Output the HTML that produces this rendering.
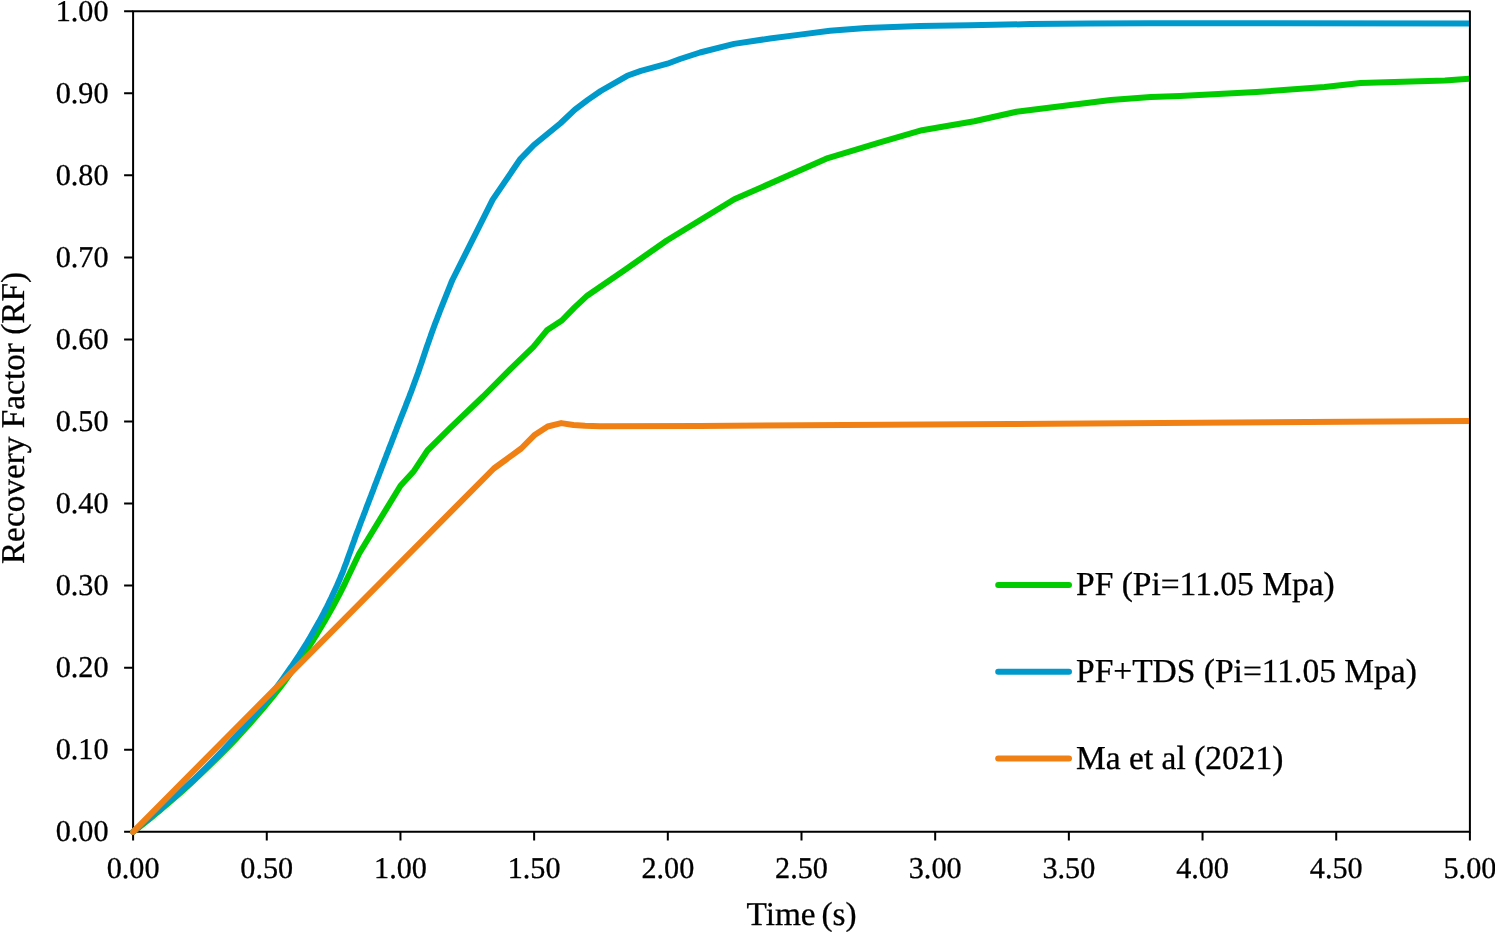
<!DOCTYPE html><html><head><meta charset="utf-8"><style>html,body{margin:0;padding:0;background:#fff;overflow:hidden}svg{display:block}text{font-family:"Liberation Serif",serif;fill:#000;text-rendering:geometricPrecision;stroke:#000;stroke-width:0.3px}</style></head><body>
<svg style="will-change:transform" width="1495" height="932" viewBox="0 0 1495 932">
<rect width="1495" height="932" fill="#fff"/>
<rect x="133.1" y="11.2" width="1336.8" height="820.6" fill="none" stroke="#000" stroke-width="2" stroke-linejoin="round"/>
<path d="M124.1 831.80H133.1 M124.1 749.74H133.1 M124.1 667.68H133.1 M124.1 585.62H133.1 M124.1 503.56H133.1 M124.1 421.50H133.1 M124.1 339.44H133.1 M124.1 257.38H133.1 M124.1 175.32H133.1 M124.1 93.26H133.1 M124.1 11.20H133.1 M133.10 831.8V840.4 M266.78 831.8V840.4 M400.46 831.8V840.4 M534.14 831.8V840.4 M667.82 831.8V840.4 M801.50 831.8V840.4 M935.18 831.8V840.4 M1068.86 831.8V840.4 M1202.54 831.8V840.4 M1336.22 831.8V840.4 M1469.90 831.8V840.4" stroke="#000" stroke-width="2" fill="none"/>
<clipPath id="c"><rect x="0" y="0" width="1468.9" height="932"/></clipPath>
<g clip-path="url(#c)" fill="none" stroke-width="6" stroke-linejoin="round" stroke-linecap="round">
<polyline points="133.1,831.8 137.0,828.8 140.8,825.8 144.6,822.8 148.4,819.8 152.1,816.8 155.7,813.8 159.4,810.8 163.0,807.8 166.5,804.8 170.0,801.8 173.5,798.8 177.0,795.8 180.4,792.8 183.7,789.8 187.0,786.8 190.3,783.8 193.5,780.8 196.6,777.8 199.8,774.8 202.9,771.8 206.0,768.8 209.1,765.8 212.2,762.8 215.3,759.8 218.3,756.8 221.3,753.8 224.3,750.8 227.3,747.8 230.2,744.8 233.1,741.8 236.0,738.8 238.8,735.8 241.5,732.8 244.3,729.8 247.0,726.8 249.7,723.8 252.3,720.8 254.9,717.8 257.5,714.8 260.1,711.8 262.7,708.8 265.2,705.8 267.7,702.8 270.1,699.8 272.6,696.8 275.0,693.8 277.3,690.8 279.7,687.8 282.0,684.8 284.3,681.8 286.5,678.8 288.7,675.8 290.9,672.8 293.1,669.8 295.2,666.8 297.3,663.8 299.4,660.8 301.5,657.8 303.5,654.8 305.5,651.8 307.5,648.8 309.5,645.8 311.4,642.8 313.4,639.8 315.2,636.8 317.1,633.8 318.9,630.8 320.7,627.8 322.5,624.8 324.3,621.8 326.0,618.8 327.7,615.8 329.4,612.8 331.1,609.8 332.8,606.8 334.4,603.8 336.0,600.8 337.6,597.8 339.2,594.8 340.7,591.8 342.2,588.8 343.7,585.8 345.2,582.8 346.5,580.0 359.2,553.5 400.5,485.7 414.0,470.9 427.5,450.5 450.0,428.2 483.1,396.5 510.1,369.3 533.4,346.8 546.9,330.3 561.8,320.5 574.6,307.4 587.5,295.4 625.1,269.7 666.8,240.5 734.3,199.3 827.9,158.1 880.0,142.3 922.1,130.2 974.3,121.2 1016.5,111.8 1044.6,108.2 1110.8,100.1 1150.9,97.1 1180.0,96.1 1256.3,92.1 1324.5,87.1 1360.6,83.1 1444.9,80.5 1469.9,78.7" stroke="#00CC00"/>
<polyline points="133.1,831.8 136.7,828.8 140.3,825.8 143.9,822.8 147.5,819.8 151.1,816.8 154.6,813.8 158.1,810.8 161.7,807.8 165.1,804.8 168.6,801.8 172.1,798.8 175.6,795.8 179.0,792.8 182.5,789.8 185.9,786.8 189.2,783.8 192.5,780.8 195.6,777.8 198.7,774.8 201.8,771.8 204.9,768.8 207.9,765.8 210.9,762.8 213.8,759.8 216.7,756.8 219.6,753.8 222.5,750.8 225.3,747.8 228.1,744.8 230.9,741.8 233.6,738.8 236.3,735.8 239.0,732.8 241.7,729.8 244.3,726.8 246.9,723.8 249.5,720.8 252.1,717.8 254.6,714.8 257.1,711.8 259.6,708.8 262.1,705.8 264.5,702.8 266.9,699.8 269.3,696.8 271.7,693.8 274.0,690.8 276.3,687.8 278.5,684.8 280.7,681.8 282.9,678.8 285.0,675.8 287.1,672.8 289.2,669.8 291.3,666.8 293.3,663.8 295.3,660.8 297.3,657.8 299.3,654.8 301.2,651.8 303.1,648.8 305.0,645.8 306.9,642.8 308.7,639.8 310.5,636.8 312.2,633.8 313.9,630.8 315.6,627.8 317.3,624.8 319.0,621.8 320.6,618.8 322.2,615.8 323.8,612.8 325.3,609.8 326.9,606.8 328.4,603.8 329.8,600.8 331.3,597.8 332.7,594.8 334.1,591.8 335.5,588.8 336.9,585.8 338.2,582.8 339.5,579.8 340.7,576.8 342.0,573.8 343.2,570.8 344.3,567.8 345.4,564.8 346.6,561.8 347.6,558.8 348.7,555.8 349.8,552.8 350.9,549.8 351.9,546.8 353.0,543.8 354.1,540.8 355.1,537.8 356.2,534.8 357.3,531.8 358.5,528.8 359.6,525.8 360.7,522.8 361.8,519.8 363.0,516.8 364.1,513.8 365.3,510.8 366.4,507.8 367.5,504.8 368.7,501.8 369.8,498.8 371.0,495.8 372.1,492.8 373.3,489.8 374.4,486.8 375.5,483.8 376.7,480.8 377.8,477.8 379.0,474.8 380.1,471.8 381.3,468.8 382.4,465.8 383.6,462.8 384.7,459.8 385.9,456.8 387.0,453.8 388.2,450.8 389.3,447.8 390.5,444.8 391.7,441.8 392.8,438.8 394.0,435.8 395.1,432.8 396.3,429.8 397.4,426.8 398.6,423.8 399.8,420.8 400.9,417.8 402.1,414.8 403.3,411.8 404.5,408.8 405.7,405.8 406.8,402.8 408.0,399.8 409.2,396.8 410.3,393.8 411.5,390.8 412.6,387.8 413.7,384.8 414.8,381.8 415.9,378.8 417.0,375.8 418.1,372.8 419.1,369.8 420.1,366.8 421.2,363.8 422.2,360.8 423.2,357.8 424.2,354.8 425.2,351.8 426.2,348.8 427.2,345.8 428.3,342.8 429.3,339.8 430.4,336.8 431.4,333.8 432.5,330.8 433.6,327.8 434.7,324.8 435.8,321.8 437.0,318.8 438.1,315.8 439.3,312.8 440.4,309.8 441.6,306.8 442.8,303.8 444.0,300.8 445.2,297.8 446.4,294.8 447.6,291.8 448.8,288.8 450.0,285.8 451.2,282.8 452.4,280.0 492.7,199.6 520.5,158.8 533.9,145.0 560.5,123.2 574.9,109.6 587.8,99.9 600.7,91.0 627.2,75.8 640.9,70.9 667.4,63.7 680.0,59.0 700.0,52.5 734.1,43.9 770.0,38.5 800.0,34.6 830.0,30.8 866.0,27.9 920.0,26.1 970.0,25.3 1030.0,24.1 1090.0,23.6 1150.0,23.3 1469.9,23.4" stroke="#0099CC"/>
<polyline points="133.1,831.8 493.8,468.5 521.2,448.5 534.2,435.3 547.7,426.5 561.2,423.1 573.5,425.0 585.0,425.8 600.0,426.2 700.0,426.0 1010.0,424.1 1307.0,422.0 1469.9,420.9" stroke="#F08014"/>
</g>
<text x="108.5" y="841.40" font-size="30.2" text-anchor="end">0.00</text>
<text x="108.5" y="759.34" font-size="30.2" text-anchor="end">0.10</text>
<text x="108.5" y="677.28" font-size="30.2" text-anchor="end">0.20</text>
<text x="108.5" y="595.22" font-size="30.2" text-anchor="end">0.30</text>
<text x="108.5" y="513.16" font-size="30.2" text-anchor="end">0.40</text>
<text x="108.5" y="431.10" font-size="30.2" text-anchor="end">0.50</text>
<text x="108.5" y="349.04" font-size="30.2" text-anchor="end">0.60</text>
<text x="108.5" y="266.98" font-size="30.2" text-anchor="end">0.70</text>
<text x="108.5" y="184.92" font-size="30.2" text-anchor="end">0.80</text>
<text x="108.5" y="102.86" font-size="30.2" text-anchor="end">0.90</text>
<text x="108.5" y="20.80" font-size="30.2" text-anchor="end">1.00</text>
<text x="133.10" y="878" font-size="30.2" text-anchor="middle">0.00</text>
<text x="266.78" y="878" font-size="30.2" text-anchor="middle">0.50</text>
<text x="400.46" y="878" font-size="30.2" text-anchor="middle">1.00</text>
<text x="534.14" y="878" font-size="30.2" text-anchor="middle">1.50</text>
<text x="667.82" y="878" font-size="30.2" text-anchor="middle">2.00</text>
<text x="801.50" y="878" font-size="30.2" text-anchor="middle">2.50</text>
<text x="935.18" y="878" font-size="30.2" text-anchor="middle">3.00</text>
<text x="1068.86" y="878" font-size="30.2" text-anchor="middle">3.50</text>
<text x="1202.54" y="878" font-size="30.2" text-anchor="middle">4.00</text>
<text x="1336.22" y="878" font-size="30.2" text-anchor="middle">4.50</text>
<text x="1469.90" y="878" font-size="30.2" text-anchor="middle">5.00</text>
<text x="801.5" y="925" font-size="33.3" text-anchor="middle" word-spacing="-2.5">Time (s)</text>
<text transform="translate(24,418) rotate(-90)" font-size="33.3" text-anchor="middle">Recovery Factor (RF)</text>
<line x1="998.2" y1="585" x2="1069" y2="585" stroke="#00CC00" stroke-width="6" stroke-linecap="round"/>
<text x="1076" y="595.2" font-size="33.5">PF (Pi=11.05 Mpa)</text>
<line x1="998.2" y1="671.8" x2="1069" y2="671.8" stroke="#0099CC" stroke-width="6" stroke-linecap="round"/>
<text x="1076" y="682.0" font-size="33.5">PF+TDS (Pi=11.05 Mpa)</text>
<line x1="998.2" y1="758.6" x2="1069" y2="758.6" stroke="#F08014" stroke-width="6" stroke-linecap="round"/>
<text x="1076" y="768.8" font-size="33.5">Ma et al (2021)</text>
</svg></body></html>
